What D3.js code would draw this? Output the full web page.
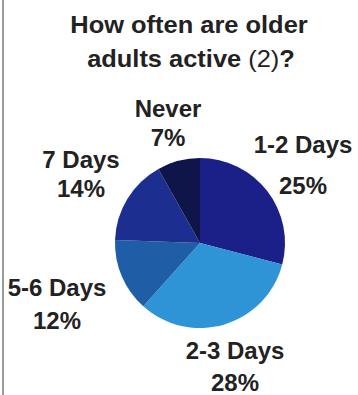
<!DOCTYPE html>
<html>
<head>
<meta charset="utf-8">
<script src="https://cdn.jsdelivr.net/npm/d3@7"></script>
<style>
  html, body { margin: 0; padding: 0; background: #fff; }
  svg { display: block; }
  text { font-family: "Liberation Sans", Arial, sans-serif; fill: #222; }
</style>
</head>
<body>
<svg id="chart" width="358" height="395"></svg>
<script>
// Share of older adults by number of active days per week
const categories = ["1-2 Days", "2-3 Days", "5-6 Days", "7 Days", "Never"];
const percents = [25, 28, 12, 14, 7];
const colors = ["#1b2088", "#2f94d5", "#1f5ea7", "#1c2f91", "#0f1549"];

const W = 358, H = 395;
const svg = d3.select("#chart");

// thin frame line on the left edge
svg.append("line")
  .attr("x1", 3).attr("x2", 3).attr("y1", 0).attr("y2", H)
  .attr("stroke", "#9a9a9a").attr("stroke-width", 2);

// title, two lines, the "(2)" in regular weight
const title = svg.append("g").attr("font-weight", "bold").attr("font-size", 24)
  .attr("text-anchor", "middle");
title.append("text").attr("transform", "translate(189,33) scale(1.06,1)")
  .text("How often are older");
const t2 = title.append("text").attr("transform", "translate(191,67) scale(1.06,1)");
t2.append("tspan").text("adults active ");
t2.append("tspan").attr("font-weight", "normal").text("(2)");
t2.append("tspan").text("?");

const cx = 200, cy = 243, r = 85;

const pie = d3.pie().sort(null).value(d => d)(percents);
const arc = d3.arc().innerRadius(0).outerRadius(r);

const g = svg.append("g").attr("transform", `translate(${cx},${cy})`);
g.selectAll("path").data(pie).join("path")
  .attr("d", arc)
  .attr("fill", (d, i) => colors[i]);

// label anchor points (name line baseline, percent line baseline)
const labelPos = [
  { x: 303, y: 153, y2: 194 },
  { x: 235, y: 359, y2: 391 },
  { x: 57, y: 296, y2: 329 },
  { x: 81, y: 168, y2: 197 },
  { x: 168, y: 117, y2: 146 }
];

const labels = svg.append("g").attr("font-weight", "bold").attr("font-size", 24)
  .attr("text-anchor", "middle");
categories.forEach((c, i) => {
  const p = labelPos[i];
  labels.append("text").attr("x", p.x).attr("y", p.y).text(c);
  labels.append("text").attr("x", p.x).attr("y", p.y2).text(percents[i] + "%");
});
</script>
</body>
</html>
